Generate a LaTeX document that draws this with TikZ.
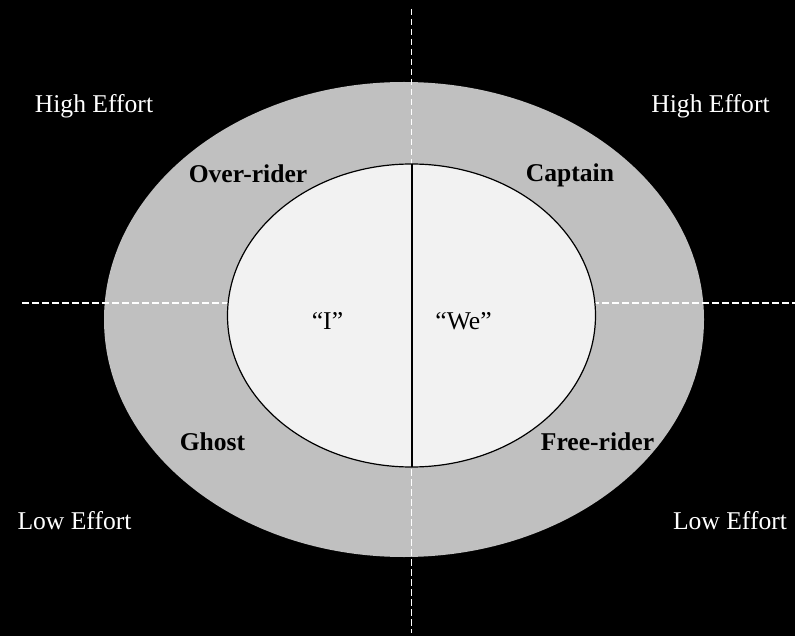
\documentclass[tikz,border=0pt]{standalone}
\usepackage{fontspec}
\setmainfont{Liberation Serif}
\usetikzlibrary{shapes.geometric}
\definecolor{ringgray}{HTML}{C0C0C0}
\definecolor{corefill}{HTML}{F2F2F2}
\tikzset{
  outerell/.style={ellipse, fill=ringgray, draw=none, inner sep=0pt, outer sep=0pt, minimum width=600pt, minimum height=475pt},
  innerell/.style={ellipse, fill=corefill, draw=black, line width=1.2pt, inner sep=0pt, outer sep=0pt, minimum width=368pt, minimum height=303pt},
  axisline/.style={draw=white, line width=1.8pt, dash pattern=on 6.5pt off 3.5pt},
  divider/.style={draw=black, line width=2pt},
  effort/.style={text=white, anchor=base, inner sep=0pt, font=\fontsize{25.6}{30}\selectfont},
  role/.style={text=black, anchor=base, inner sep=0pt, font=\fontsize{25.6}{30}\selectfont\bfseries},
  pron/.style={text=black, anchor=base, inner sep=0pt, font=\fontsize{25.6}{30}\selectfont}
}
\begin{document}
\begin{tikzpicture}[x=1pt, y=-1pt]
  \fill[black] (0,0) rectangle (795,636);
  \useasboundingbox (0,0) rectangle (795,636);
  \node[outerell] (outer) at (404,319.5) {};
  \coordinate (vtop) at (411.5,9);
  \coordinate (vbot) at (411.5,633);
  \coordinate (hl) at (22,303);
  \coordinate (hr) at (795,303);
  \draw[axisline] (vtop) -- (vbot);
  \draw[axisline] (hl) -- (hr);
  \node[innerell] (inner) at (411.5,315.5) {};
  \draw[divider] (inner.north) -- (inner.south);
  \node[effort] (hel) at (94,112.5) {High Effort};
  \node[effort] (her) at (710.5,112.5) {High Effort};
  \node[effort] (lel) at (74.5,529.5) {Low Effort};
  \node[effort] (ler) at (730,529.5) {Low Effort};
  \node[role] (over) at (248,183) {Over-rider};
  \node[role] (capt) at (570,182) {Captain};
  \node[role] (ghost) at (212.5,450) {Ghost};
  \node[role] (free) at (597.5,450) {Free-rider};
  \node[pron] (i) at (327.5,330) {“I”};
  \node[pron] (we) at (463.5,330) {“We”};
\end{tikzpicture}
\end{document}
